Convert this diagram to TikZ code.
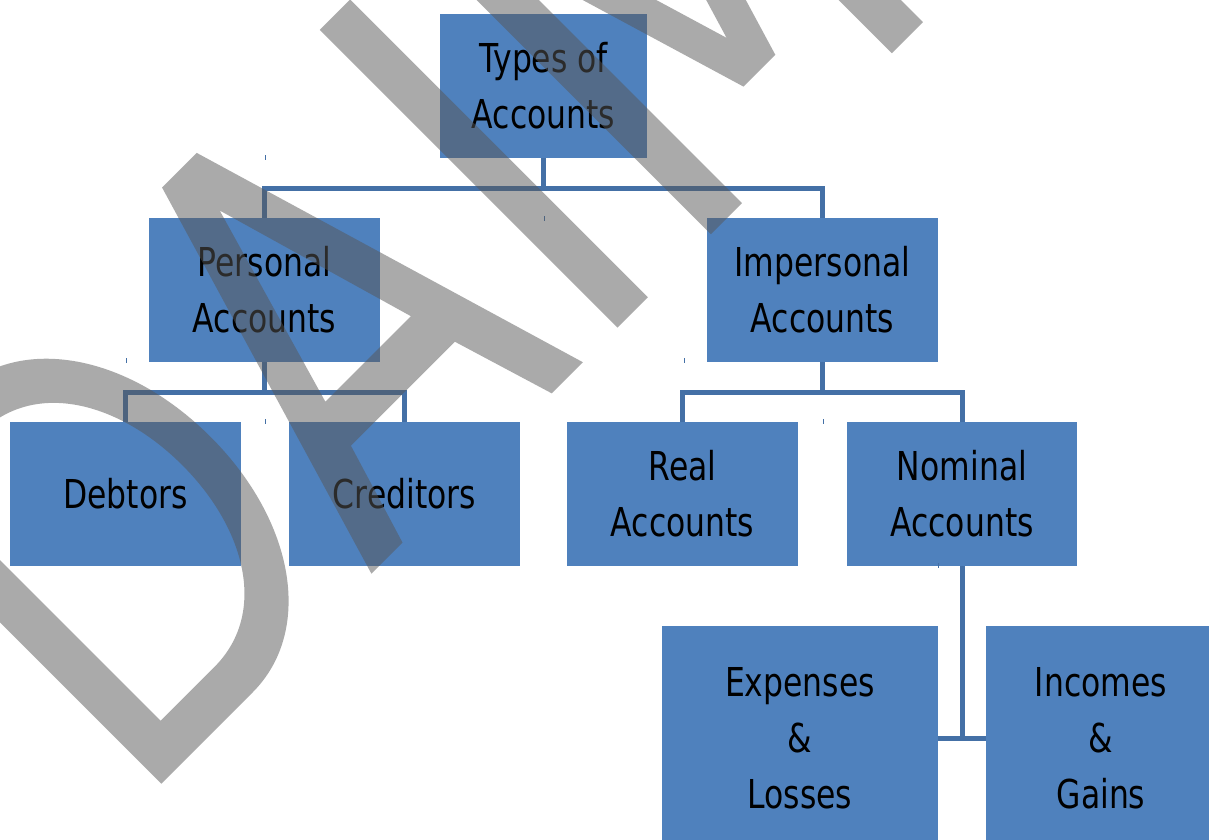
\documentclass[tikz,border=0pt]{standalone}
\usepackage{fontspec}
\setmainfont{DejaVu Sans}[FakeStretch=0.79]
\usetikzlibrary{calc}
\definecolor{boxblue}{HTML}{4F81BD}
\definecolor{connblue}{HTML}{4470A6}
\definecolor{wmgray}{HTML}{575757}
\newcommand\lnstrut{\rule[-9.5pt]{0pt}{48pt}}
\begin{document}
\begin{tikzpicture}[x=1pt,y=-1pt,
  box/.style={rectangle, fill=boxblue, inner sep=0pt, align=center, text=black,
    font=\fontsize{39.8pt}{56pt}\selectfont},
  conn/.style={draw=connblue, line width=5pt},
  tickmark/.style={draw=connblue, line width=1pt},
  wm/.style={fill=wmgray, fill opacity=0.5, even odd rule}]
\useasboundingbox (0,0) rectangle (1209,839);
\clip (0,0) rectangle (1209,839);
\fill[white] (0,0) rectangle (1209,839);

% boxes
\node[box, minimum width=207pt, minimum height=144pt] (types) at (543.5,86) {\lnstrut Types of\\\lnstrut Accounts};
\node[box, minimum width=231pt, minimum height=144pt] (personal) at (264.5,290) {\lnstrut Personal\\\lnstrut Accounts};
\node[box, minimum width=231pt, minimum height=144pt] (impersonal) at (822.5,290) {\lnstrut Impersonal\\\lnstrut Accounts};
\node[box, minimum width=231pt, minimum height=144pt] (debtors) at (125.5,494) {\lnstrut Debtors};
\node[box, minimum width=231pt, minimum height=144pt] (creditors) at (404.5,494) {\lnstrut Creditors};
\node[box, minimum width=231pt, minimum height=144pt] (real) at (682.5,494) {\lnstrut Real\\\lnstrut Accounts};
\node[box, minimum width=230pt, minimum height=144pt] (nominal) at (962,494) {\lnstrut Nominal\\\lnstrut Accounts};
\node[box, minimum width=276pt, minimum height=224pt] (expenses) at (800,738) {\lnstrut Expenses\\\lnstrut \&\\\lnstrut Losses};
\node[box, minimum width=230pt, minimum height=224pt] (incomes) at (1101,738) {\lnstrut Incomes\\\lnstrut \&\\\lnstrut Gains};

% connectors
\draw[conn] (types.south) -- ++(0,30) -| (personal.north);
\draw[conn] (types.south) ++(0,30) -| (impersonal.north);
\draw[conn] (personal.south) -- ++(0,30) -| (debtors.north);
\draw[conn] (personal.south) ++(0,30) -| (creditors.north);
\draw[conn] (impersonal.south) -- ++(0,30) -| (real.north);
\draw[conn] (impersonal.south) ++(0,30) -| (nominal.north);
\coordinate (nj) at (962,738);
\draw[conn] (nominal.south) -- (nj);
\draw[conn] (expenses.east) -- (incomes.west);

% small tick marks
\draw[tickmark] (265,155) -- (265,160);
\draw[tickmark] (544,216) -- (544,221);
\draw[tickmark] (126,358) -- (126,363);
\draw[tickmark] (684,358) -- (684,363);
\draw[tickmark] (265,419) -- (265,424);
\draw[tickmark] (823,419) -- (823,424);
\draw[tickmark] (938,563) -- (938,568);

% watermark
\begin{scope}[shift={(472.5pt,-472.5pt)}, x={(0.70711pt,0.70711pt)}, y={(-0.70711pt,0.70711pt)}]
  % D
  \fill[wm] (-440,0) -- (-311,0) .. controls (-225,0) and (-160,90) .. (-160,210.5)
    .. controls (-160,331) and (-225,421) .. (-311,421) -- (-440,421) -- cycle
    (-396,45) -- (-320,45) .. controls (-245,45) and (-200,120) .. (-200,210.5)
    .. controls (-200,301) and (-245,376) .. (-320,376) -- (-396,376) -- cycle;
  % A
  \fill[wm] (-143,0) -- (-18,421) -- (31,421) -- (156,0) -- (112,0) -- (80,105)
    -- (-67,105) -- (-99,0) -- cycle
    (6.5,364) -- (67,154) -- (-54,154) -- cycle;
  % I
  \fill[wm] (205,0) -- (248,0) -- (248,421) -- (205,421) -- cycle;
  % M
  \fill[wm] (337,0) -- (381,0) -- (381,359.6) -- (464.5,81.3) -- (509.5,81.3)
    -- (593,359.6) -- (593,0) -- (637,0) -- (637,421) -- (575,421)
    -- (487,127.7) -- (399,421) -- (337,421) -- cycle;
\end{scope}
\end{tikzpicture}
\end{document}
